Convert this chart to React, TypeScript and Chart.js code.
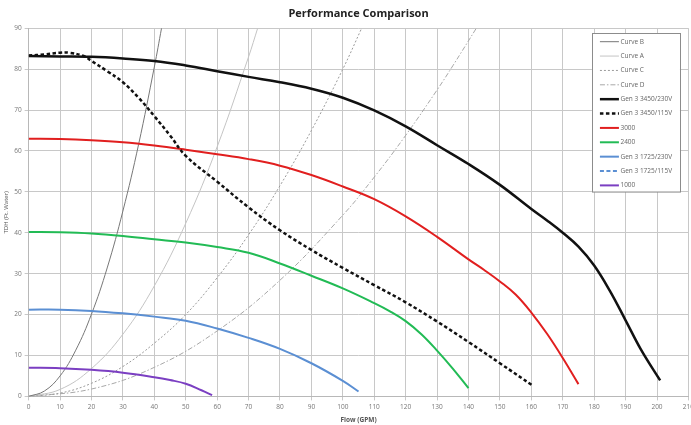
import React, { useEffect, useRef } from 'react';
import { Chart, registerables } from 'chart.js';

Chart.register(...registerables);

// ---- data (Flow in GPM, TDH in ft. water) ----
const curveBFlow = [0, 5, 10, 15, 20, 25, 30, 35, 40, 42.3];
const curveBTdh = [0, 1.3, 5, 11.3, 20.1, 31.4, 45.3, 61.6, 80.5, 90];

const curveAFlow = [0, 10, 20, 30, 40, 50, 60, 70, 72.9];
const curveATdh = [0, 1.7, 6.8, 15.2, 27, 42.3, 61, 83, 90];

const curveCFlow = [0, 10, 20, 30, 40, 50, 60, 70, 80, 90, 100, 106];
const curveCTdh = [0, 0.8, 3.2, 7.3, 13, 20, 29, 39.5, 51.5, 65, 80, 90];

const curveDFlow = [0, 20, 40, 60, 80, 100, 110, 120, 130, 135, 142.5];
const curveDTdh = [0, 1.8, 7.1, 16, 28.4, 44.3, 53.6, 63.8, 74.9, 80.8, 90];

const gen3450x230Flow = [0, 10, 20, 30, 40, 50, 60, 70, 80, 90, 100, 110, 120, 130, 140, 150, 160, 165, 170, 175, 180, 185, 190, 195, 201];
const gen3450x230Tdh = [83.2, 83.1, 83, 82.6, 82, 80.9, 79.5, 78.1, 76.8, 75.2, 73, 69.9, 66, 61.4, 56.8, 51.7, 45.8, 43, 40, 36.6, 32, 25.8, 18.6, 11.3, 3.9];

const gen3450x115Flow = [0, 5, 10, 13, 17.5, 20, 25, 30, 35, 40, 45, 50, 60, 70, 80, 90, 100, 110, 120, 130, 140, 150, 160.5];
const gen3450x115Tdh = [83.3, 83.6, 84, 84, 83.2, 82, 79.5, 76.8, 73, 68.5, 63.8, 58.8, 52.5, 46.2, 40.6, 35.8, 31.4, 27.2, 23, 18.3, 13.3, 8.1, 2.6];

const rpm3000Flow = [0, 10, 20, 30, 40, 50, 60, 70, 80, 90, 100, 110, 120, 130, 140, 145, 150, 155, 160, 165, 170, 175];
const rpm3000Tdh = [63, 62.9, 62.6, 62.1, 61.3, 60.3, 59.2, 58, 56.4, 54.1, 51.3, 48.2, 44, 39, 33.5, 30.9, 28.1, 24.9, 20.5, 15.3, 9.4, 3];

const rpm2400Flow = [0, 10, 20, 30, 40, 50, 60, 70, 80, 90, 100, 110, 115, 120, 125, 130, 135, 140];
const rpm2400Tdh = [40.2, 40.1, 39.8, 39.2, 38.4, 37.6, 36.5, 35.1, 32.5, 29.5, 26.4, 22.8, 20.8, 18.4, 15.2, 11.2, 6.8, 2];

const gen1725x230Flow = [0, 10, 20, 30, 40, 50, 60, 70, 80, 90, 100, 105];
const gen1725x230Tdh = [21.2, 21.2, 20.9, 20.3, 19.5, 18.5, 16.6, 14.3, 11.6, 8.1, 3.8, 1.2];

// coincides with / hidden by the 1725/230V curve in the picture
const gen1725x115Flow: number[] = [];
const gen1725x115Tdh: number[] = [];

const rpm1000Flow = [0, 10, 20, 30, 40, 45, 50, 55, 58.4];
const rpm1000Tdh = [7, 6.9, 6.5, 5.8, 4.7, 4, 3.1, 1.5, 0.3];

const seriesLabels = [
  'Curve B', 'Curve A', 'Curve C', 'Curve D',
  'Gen 3 3450/230V', 'Gen 3 3450/115V', '3000', '2400',
  'Gen 3 1725/230V', 'Gen 3 1725/115V', '1000',
];

const xTickMax = 210;
const yTickMax = 90;

const pts = (xs: number[], ys: number[]) => xs.map((x, i) => ({ x, y: ys[i] }));

const FONT = '"Open Sans", "Liberation Sans", sans-serif';

const insideLegend = {
  id: 'insideLegend',
  afterDraw(chart: any) {
    const { ctx, chartArea } = chart;
    const w = 88;
    const rowH = 14.37;
    const n = chart.data.datasets.length;
    const h = rowH * n + 0.5;
    const left = chartArea.right - 8.5 - w;
    const top = chartArea.top + 5;
    ctx.save();
    ctx.fillStyle = '#ffffff';
    ctx.fillRect(left, top, w, h);
    ctx.strokeStyle = '#8c8c8c';
    ctx.lineWidth = 1;
    ctx.strokeRect(Math.round(left) + 0.5, Math.round(top) + 0.5, w, h);
    chart.data.datasets.forEach((ds: any, i: number) => {
      const y = top + 8.5 + i * rowH;
      ctx.beginPath();
      ctx.setLineDash(ds.borderDash || []);
      ctx.strokeStyle = ds.borderColor;
      ctx.lineWidth = ds.borderWidth;
      ctx.moveTo(left + 8, y);
      ctx.lineTo(left + 27, y);
      ctx.stroke();
      ctx.setLineDash([]);
      ctx.fillStyle = '#666';
      ctx.font = `6.5px ${FONT}`;
      ctx.textBaseline = 'middle';
      ctx.textAlign = 'left';
      ctx.fillText(ds.label, left + 28.5, y);
    });
    ctx.restore();
  },
};

export default function App() {
  const ref = useRef<HTMLCanvasElement | null>(null);

  useEffect(() => {
    if (!ref.current) return;
    const mk = (i: number, xs: number[], ys: number[], color: string, width: number, dash: number[], order: number) => ({
      label: seriesLabels[i],
      data: pts(xs, ys),
      borderColor: color,
      backgroundColor: color,
      borderWidth: width,
      borderDash: dash,
      pointRadius: 0,
      fill: false,
      tension: 0.4,
      order,
    });
    const chart = new Chart(ref.current, {
      type: 'line',
      data: {
        datasets: [
          mk(0, curveBFlow, curveBTdh, '#777777', 1, [], 3),
          mk(1, curveAFlow, curveATdh, '#c4c4c4', 1, [], 3),
          mk(2, curveCFlow, curveCTdh, '#9a9a9a', 1, [2, 2], 3),
          mk(3, curveDFlow, curveDTdh, '#a8a8a8', 1, [5, 2, 1.5, 2], 3),
          mk(4, gen3450x230Flow, gen3450x230Tdh, '#111111', 2.5, [], 1),
          mk(5, gen3450x115Flow, gen3450x115Tdh, '#111111', 2.5, [3.5, 2.5], 0),
          mk(6, rpm3000Flow, rpm3000Tdh, '#e11f1f', 2, [], 0),
          mk(7, rpm2400Flow, rpm2400Tdh, '#22bb55', 2, [], 0),
          mk(8, gen1725x230Flow, gen1725x230Tdh, '#5b8fd3', 2, [], 0),
          mk(9, gen1725x115Flow, gen1725x115Tdh, '#5b8fd3', 2, [4, 2.5], 0),
          mk(10, rpm1000Flow, rpm1000Tdh, '#7b3fc2', 2, [], 0),
        ],
      },
      options: {
        animation: false,
        responsive: true,
        maintainAspectRatio: false,
        layout: { padding: { left: 0, top: 0, right: 0, bottom: 0 } },
        plugins: {
          legend: { display: false },
          tooltip: { enabled: false },
          title: {
            display: true,
            text: 'Performance Comparison',
            fullSize: false,
            color: '#222',
            font: { family: FONT, size: 11, weight: 'bold' },
            padding: { top: 7, bottom: 8 },
          },
        },
        scales: {
          x: {
            type: 'linear',
            min: 0,
            max: xTickMax,
            ticks: {
              stepSize: 10,
              autoSkip: false,
              maxRotation: 0,
              color: '#777',
              padding: 3,
              font: { family: FONT, size: 6.5 },
            },
            grid: { color: '#c8c8c8', lineWidth: 1, tickLength: 4 },
            border: { color: '#b8b8b8' },
            title: {
              display: true,
              text: 'Flow (GPM)',
              color: '#555',
              font: { family: FONT, size: 6.5, weight: 'bold' },
              padding: { top: 2, bottom: 1 },
            },
          },
          y: {
            type: 'linear',
            min: 0,
            max: yTickMax,
            ticks: {
              stepSize: 10,
              color: '#777',
              padding: 3,
              font: { family: FONT, size: 6.5 },
            },
            grid: { color: '#c8c8c8', lineWidth: 1, tickLength: 4 },
            border: { color: '#b8b8b8' },
            title: {
              display: true,
              text: 'TDH (Ft. Water)',
              color: '#555',
              font: { family: FONT, size: 6, weight: 'normal' },
              padding: { top: 3, bottom: 1 },
            },
          },
        },
      },
      plugins: [insideLegend],
    });
    return () => chart.destroy();
  }, []);

  return (
    <div style={{ position: 'fixed', left: 0, top: 0, width: 691, height: 425, overflow: 'hidden', background: '#fff' }}>
      <div style={{ width: 697, height: 425, position: 'relative' }}>
        <canvas ref={ref} />
      </div>
    </div>
  );
}
